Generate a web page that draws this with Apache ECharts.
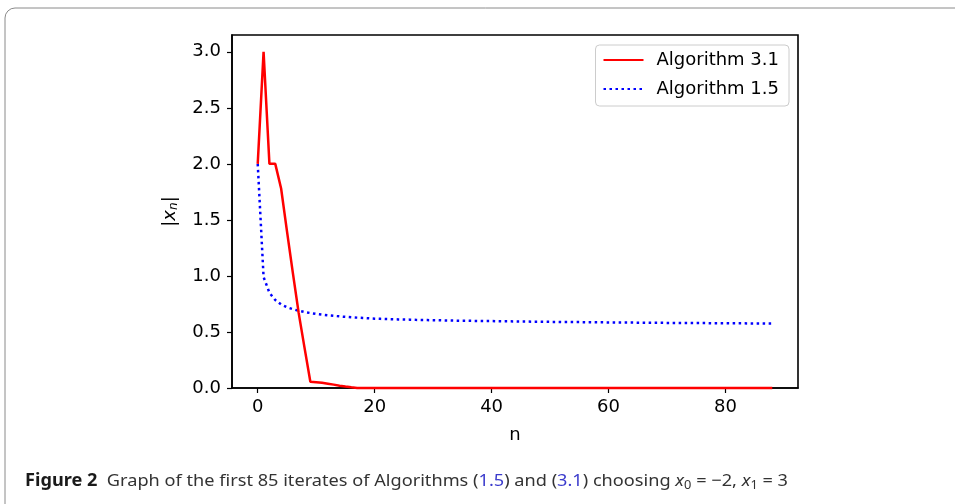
<!DOCTYPE html>
<html>
<head>
<meta charset="utf-8">
<script src="https://cdn.jsdelivr.net/npm/echarts@6/dist/echarts.min.js"></script>
<style>
html,body{margin:0;padding:0;background:#fff;}
#c{width:955px;height:504px;}
</style>
</head>
<body>
<div id="c"></div>
<script>
// ---- data ----
const nValues = [
  0,1,2,3,4,5,6,7,8,9,10,11,12,13,14,15,16,17,18,19,20,21,22,23,24,25,26,27,28,29,
  30,31,32,33,34,35,36,37,38,39,40,41,42,43,44,45,46,47,48,49,50,51,52,53,54,55,56,57,58,59,
  60,61,62,63,64,65,66,67,68,69,70,71,72,73,74,75,76,77,78,79,80,81,82,83,84,85,86,87,88];
const alg31 = [
  2.0, 3.0, 2.0, 2.0, 1.78, 1.40, 1.03, 0.67, 0.36, 0.056,
  0.052, 0.046, 0.038, 0.030, 0.021, 0.013, 0.006, 0.001, 0, 0,
  0, 0, 0, 0, 0, 0, 0, 0, 0, 0,
  0, 0, 0, 0, 0, 0, 0, 0, 0, 0,
  0, 0, 0, 0, 0, 0, 0, 0, 0, 0,
  0, 0, 0, 0, 0, 0, 0, 0, 0, 0,
  0, 0, 0, 0, 0, 0, 0, 0, 0, 0,
  0, 0, 0, 0, 0, 0, 0, 0, 0, 0,
  0, 0, 0, 0, 0, 0, 0, 0, 0];
const alg15 = [
  2.0, 0.99, 0.85, 0.785, 0.745, 0.72, 0.703, 0.69, 0.678, 0.669,
  0.661, 0.655, 0.649, 0.644, 0.639, 0.635, 0.631, 0.628, 0.625, 0.622,
  0.619, 0.617, 0.615, 0.614, 0.612, 0.611, 0.610, 0.608, 0.607, 0.606,
  0.605, 0.604, 0.603, 0.602, 0.601, 0.600, 0.600, 0.599, 0.598, 0.597,
  0.597, 0.596, 0.595, 0.595, 0.594, 0.593, 0.593, 0.592, 0.592, 0.591,
  0.590, 0.590, 0.589, 0.589, 0.588, 0.588, 0.587, 0.587, 0.586, 0.586,
  0.585, 0.585, 0.584, 0.584, 0.584, 0.583, 0.583, 0.582, 0.582, 0.582,
  0.581, 0.581, 0.580, 0.580, 0.580, 0.579, 0.579, 0.579, 0.578, 0.578,
  0.578, 0.577, 0.577, 0.577, 0.576, 0.576, 0.576, 0.575, 0.575];
const xTicks = [0, 20, 40, 60, 80];
const yTicks = [0, 0.5, 1.0, 1.5, 2.0, 2.5, 3.0];
const seriesNames = ['Algorithm 3.1', 'Algorithm 1.5'];

// caption pieces
const capFont = 'Noto Sans';
const capSize = 17;
const capParts = [
  ['b', 'Figure 2'], ['t', '  Graph of the first 85 iterates of Algorithms ('], ['l', '1.5'],
  ['t', ') and ('], ['l', '3.1'], ['t', ') choosing '], ['i', 'x'], ['s', '0'],
  ['t', ' = −2, '], ['i', 'x'], ['s', '1'], ['t', ' = 3']
];
const capTargetWidth = 763;
function fontFor(k) {
  if (k === 'b') return 'bold ' + capSize + 'px "' + capFont + '"';
  if (k === 'i') return 'italic ' + capSize + 'px "' + capFont + '"';
  if (k === 's') return '12px "' + capFont + '"';
  return capSize + 'px "' + capFont + '"';
}
const mctx = document.createElement('canvas').getContext('2d');
let capW = 0;
capParts.forEach(p => { mctx.font = fontFor(p[0]); capW += mctx.measureText(p[1]).width; });
const capScale = capTargetWidth / capW;
const capText = capParts.map(p => '{' + p[0] + '|' + p[1] + '}').join('');

const chart = echarts.init(document.getElementById('c'), null, {renderer: 'canvas'});
const tickFont = 'DejaVu Sans';
const fs = 18;
chart.setOption({
  animation: false,
  backgroundColor: '#fff',
  graphic: [
    {type: 'rect', shape: {x: 5, y: 8, width: 1000, height: 520, r: 10},
     style: {fill: 'none', stroke: '#8a8a8a', lineWidth: 1}, z: 0},
    {type: 'text', x: 25, y: 471, scaleX: capScale, z: 10,
     style: {
       text: capText,
       rich: {
         b: {fontFamily: capFont, fontWeight: 'bold', fontSize: capSize, fill: '#1a1a1a'},
         t: {fontFamily: capFont, fontSize: capSize, fill: '#333'},
         l: {fontFamily: capFont, fontSize: capSize, fill: '#3a3acc'},
         i: {fontFamily: capFont, fontStyle: 'italic', fontSize: capSize, fill: '#333'},
         s: {fontFamily: capFont, fontSize: 12, fill: '#333', verticalAlign: 'bottom', padding: [9, 0, 0, 0]}
       }
     }}
  ],
  grid: {left: 232, right: 157, top: 35, bottom: 116, show: true, borderColor: '#000', borderWidth: 1.6, backgroundColor: 'transparent'},
  legend: {
    orient: 'vertical', right: 166, top: 45,
    padding: [6, 10, 8, 7], itemGap: 11,
    borderColor: '#cccccc', borderWidth: 1, borderRadius: 4, backgroundColor: '#fff',
    itemWidth: 40, itemHeight: 14,
    itemStyle: {opacity: 0},
    textStyle: {fontFamily: tickFont, fontSize: fs, lineHeight: 18, color: '#000', padding: [0, 0, 0, 8]},
    data: seriesNames
  },
  xAxis: {
    type: 'value', min: -4.4, max: 92.4,
    name: 'n', nameLocation: 'middle', nameGap: 38,
    nameTextStyle: {fontFamily: tickFont, fontSize: fs, color: '#000'},
    axisLine: {show: true, onZero: false, lineStyle: {color: '#000', width: 1.6}},
    axisTick: {show: true, inside: false, length: 5, customValues: xTicks, lineStyle: {color: '#000', width: 1.2}},
    axisLabel: {customValues: xTicks, fontFamily: tickFont, fontSize: fs, color: '#000', margin: 10},
    splitLine: {show: false}
  },
  yAxis: {
    type: 'value', min: 0, max: 3.15,
    name: '|{i|x}{s|n}|', nameLocation: 'middle', nameGap: 52, nameRotate: 90,
    nameTextStyle: {
      fontFamily: tickFont, fontSize: fs, color: '#000',
      rich: {
        i: {fontFamily: tickFont, fontStyle: 'italic', fontSize: fs, color: '#000'},
        s: {fontFamily: tickFont, fontStyle: 'italic', fontSize: 12, color: '#000', verticalAlign: 'bottom', padding: [7, 0, 0, 0]}
      }
    },
    axisLine: {show: true, onZero: false, lineStyle: {color: '#000', width: 1.6}},
    axisTick: {show: true, inside: false, length: 5, customValues: yTicks, lineStyle: {color: '#000', width: 1.2}},
    axisLabel: {customValues: yTicks, fontFamily: tickFont, fontSize: fs, color: '#000', margin: 11,
      formatter: v => v.toFixed(1)},
    splitLine: {show: false}
  },
  series: [
    {name: seriesNames[0], type: 'line', data: nValues.map((n, i) => [n, alg31[i]]),
     showSymbol: false, symbol: 'none', clip: false, z: 3,
     lineStyle: {color: '#ff0000', width: 2.5}, itemStyle: {color: '#ff0000'}},
    {name: seriesNames[1], type: 'line', data: nValues.map((n, i) => [n, alg15[i]]),
     showSymbol: false, symbol: 'none', z: 2,
     lineStyle: {color: '#0000ff', width: 2.5, type: [2.5, 3.5]}, itemStyle: {color: '#0000ff'}}
  ]
});
</script>
</body>
</html>
